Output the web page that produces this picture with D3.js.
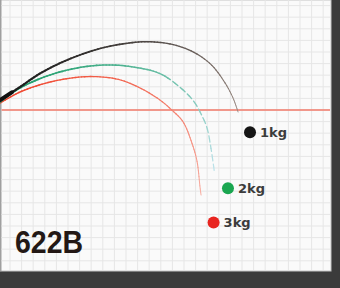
<!DOCTYPE html>
<html lang="ja">
<head>
<meta charset="UTF-8">
<title>622B</title>
<script src="https://d3js.org/d3.v7.min.js"></script>
<style>
  body { margin: 0; background: #3b3b3b; }
  svg { display: block; }
</style>
</head>
<body>
<svg id="chart" width="340" height="288"></svg>
<script>
// curves in grid units (x to the right, y up, 0 = red reference line)
const series = ["1kg", "2kg", "3kg"];
const curve1kg = [[-0.86,0.86],[0.86,1.98],[2.59,3.15],[4.91,4.3],[7.76,5.3],[10.3,5.78],[12.1,5.88],
  [14,5.65],[15.8,5.0],[17.3,3.95],[18.4,2.55],[19.2,1.1],[19.66,-0.17]];
const curve2kg = [[-0.86,0.69],[0.86,1.9],[3.45,3.02],[6.29,3.71],[8.62,3.88],[10.6,3.71],[12.9,3.15],
  [14.6,2.0],[15.8,0.8],[16.6,-0.6],[17.0,-1.6],[17.35,-3.45],[17.6,-5.2]];
const curve3kg = [[-0.86,0.6],[0.86,1.55],[3.45,2.41],[6.03,2.84],[7.76,2.86],[9.48,2.6],[11.21,1.9],
  [12.93,0.86],[14.0,-0.05],[14.91,-1.0],[15.7,-2.9],[16.12,-4.4],[16.38,-6.64],[16.47,-7.33]];
const dotPos = [[20.69,-1.92],[18.79,-6.75],[17.55,-9.7]];
const title = "622B";

const svg = d3.select("#chart");
const x = d3.scaleLinear().domain([-1, 28]).range([-1.6, 334.8]);
const y = d3.scaleLinear().domain([-14, 10]).range([272.4, -6]);

// panel
svg.append("rect").attr("x", 0).attr("y", 0).attr("width", 331).attr("height", 271)
  .attr("fill", "#fafafa").attr("stroke", "#c4c4c4").attr("stroke-width", 1);
svg.append("rect").attr("x", 0).attr("y", 0).attr("width", 1.5).attr("height", 271).attr("fill", "#a0a0a0");

const g = svg.append("g");
// grid
g.selectAll("line.gx").data(d3.range(0, 28)).join("line").attr("class", "gx")
  .attr("x1", d => x(d)).attr("x2", d => x(d)).attr("y1", 0).attr("y2", 270)
  .attr("stroke", "#e6e6e6").attr("stroke-width", 1);
g.selectAll("line.gy").data(d3.range(-13, 10)).join("line").attr("class", "gy")
  .attr("y1", d => y(d)).attr("y2", d => y(d)).attr("x1", 1.5).attr("x2", 330)
  .attr("stroke", "#e6e6e6").attr("stroke-width", 1);

// red reference line
g.append("line").attr("x1", 1.5).attr("x2", 330).attr("y1", y(0)).attr("y2", y(0))
  .attr("stroke", "#f27a6a").attr("stroke-width", 1.4);

const line = d3.line().x(d => x(d[0])).y(d => y(d[1])).curve(d3.curveCatmullRom.alpha(0.5));

// draw a curve as small pieces so width and colour can fade along it
function drawCurve(pts, c0, c1, w0, w1, dashFrom) {
  const tmp = g.append("path").attr("d", line(pts)).attr("fill", "none");
  const len = tmp.node().getTotalLength();
  const n = 90;
  const col = d3.interpolateRgb(c0, c1);
  for (let i = 0; i < n; i++) {
    const t0 = i / n, t1 = (i + 1) / n;
    const p0 = tmp.node().getPointAtLength(len * t0);
    const p1 = tmp.node().getPointAtLength(len * t1);
    if (dashFrom !== undefined && t0 > dashFrom && i % 3 === 0) continue;
    g.append("line").attr("x1", p0.x).attr("y1", p0.y).attr("x2", p1.x).attr("y2", p1.y)
      .attr("stroke", col(Math.pow(t0, 1.5))).attr("stroke-width", w0 + (w1 - w0) * t0)
      .attr("stroke-linecap", "round");
  }
  tmp.remove();
}

drawCurve(curve3kg, "#f0472f", "#f7b0a4", 1.5, 1.0);
drawCurve(curve2kg, "#1f9e6a", "#bfe3ec", 1.8, 1.2, 0.62);
drawCurve(curve1kg, "#1b1b1b", "#9a8a82", 2.2, 0.9);
// thick start blob
g.append("path").attr("d", line(curve1kg.slice(0, 3))).attr("fill", "none")
  .attr("stroke", "#111").attr("stroke-width", 4)
  .attr("stroke-dasharray", "14 200").attr("stroke-linecap", "round");

// legend dots and labels
const dotColors = ["#151515", "#1aa650", "#e8241f"];
const labels = g.selectAll("g.lab").data(series).join("g").attr("class", "lab")
  .attr("transform", (d, i) => `translate(${x(dotPos[i][0])},${y(dotPos[i][1])})`);
labels.append("circle").attr("r", 6).attr("fill", (d, i) => dotColors[i]);
labels.append("text").attr("x", 10).attr("y", 4.5).text(d => d)
  .attr("font-family", "DejaVu Sans").attr("font-weight", "bold").attr("font-size", 13)
  .attr("fill", "#3c3c3c");

// model name
svg.append("text").attr("x", 15).attr("y", 253).text(title)
  .attr("font-family", "Liberation Sans").attr("font-weight", "bold").attr("font-size", 31)
  .attr("textLength", 68).attr("lengthAdjust", "spacingAndGlyphs")
  .attr("fill", "#231815");
</script>
</body>
</html>
